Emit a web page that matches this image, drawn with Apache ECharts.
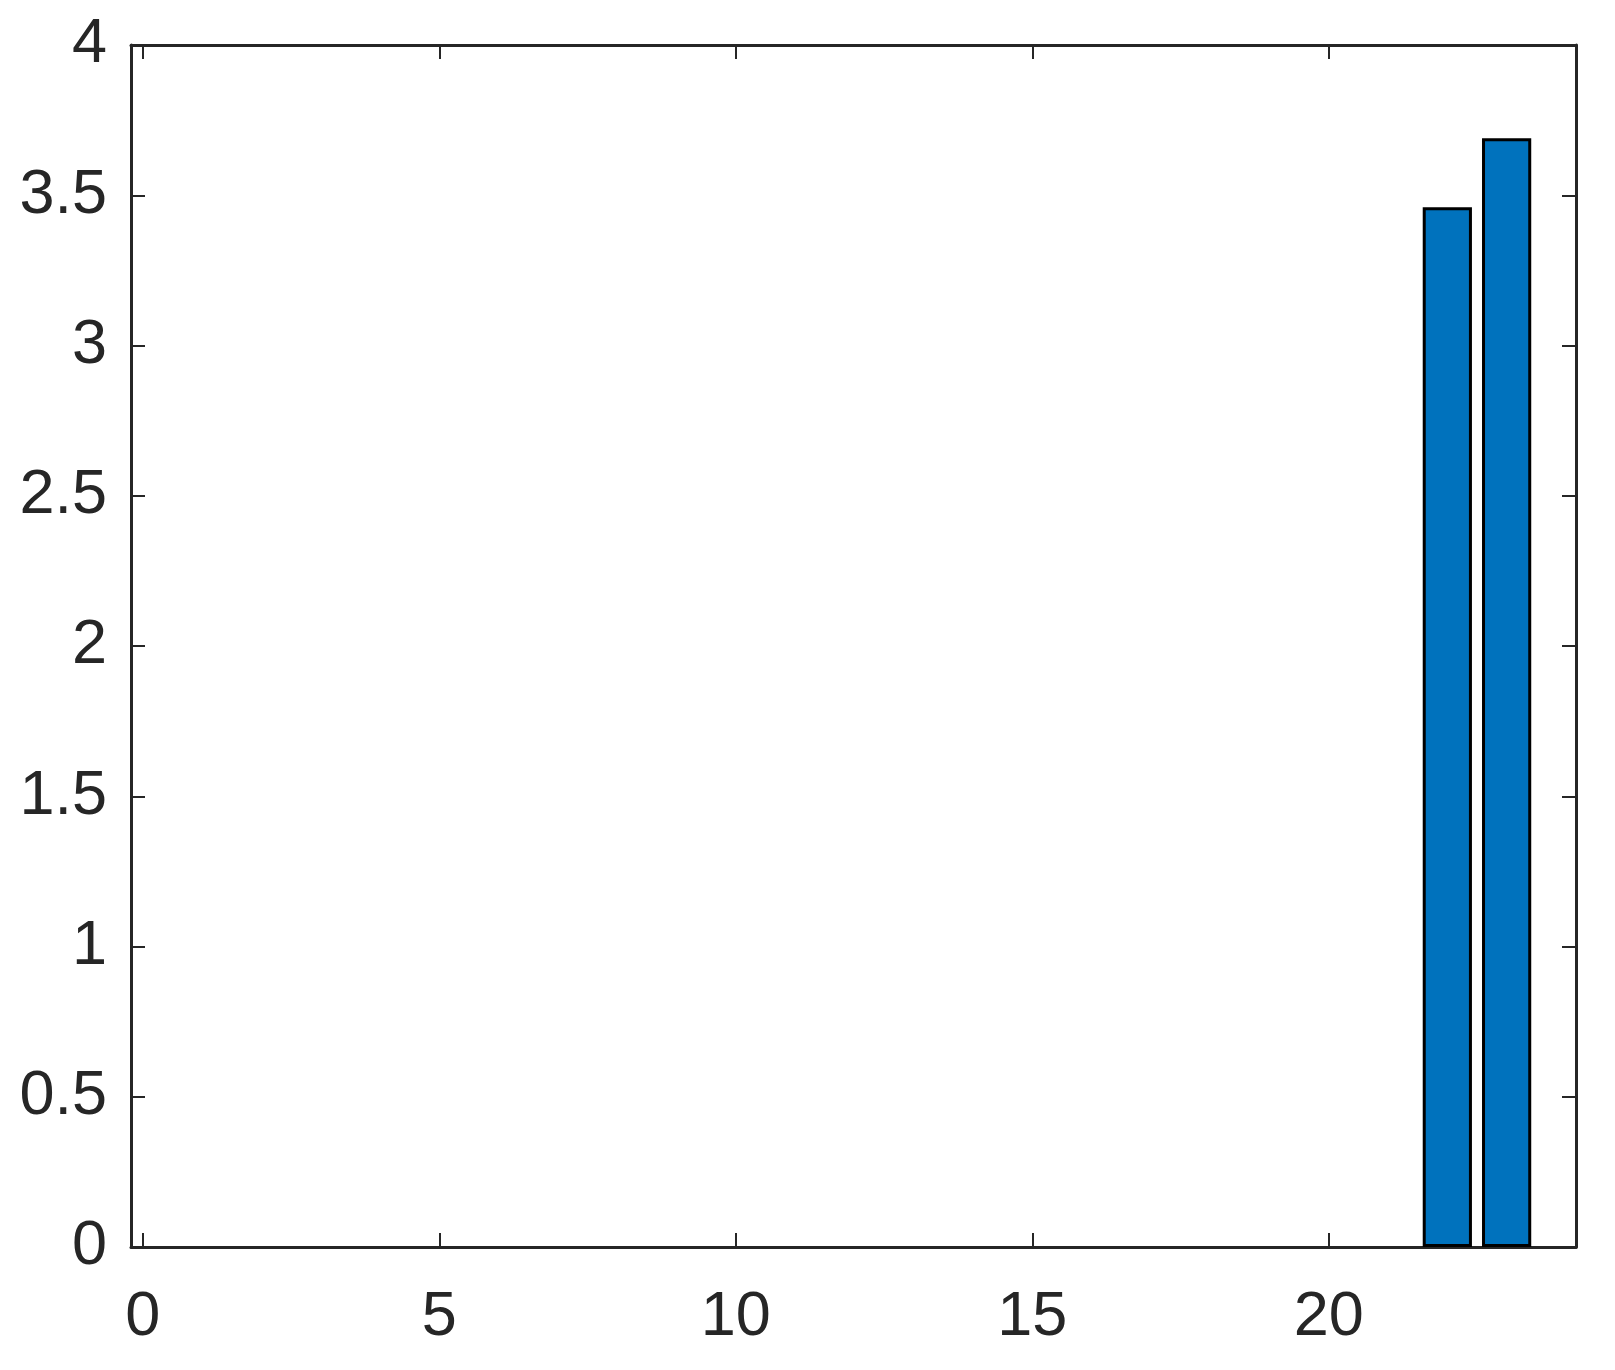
<!DOCTYPE html>
<html>
<head>
<meta charset="utf-8">
<script src="https://cdn.jsdelivr.net/npm/echarts@6/dist/echarts.min.js"></script>
<style>
  html, body { margin: 0; padding: 0; background: #fff; }
  #chart { width: 1615px; height: 1370px; }
</style>
</head>
<body>
<div id="chart"></div>
<script>
// bar positions and heights
const xPos = [22, 23]
const yVals = [3.46, 3.69]
const xTicks = [0, 5, 10, 15, 20]

const axisColor = '#262626'
const font = 'Liberation Sans, Arial, sans-serif'

let myChart = echarts.init(document.getElementById('chart'))

const lineStyle = { color: axisColor, width: 3 }
const tickStyle = { show: true, inside: true, length: 14, lineStyle: { color: axisColor, width: 2 } }

myChart.setOption({
  animation: false,
  backgroundColor: '#fff',
  grid: { left: 131, right: 39, top: 45, bottom: 123 },
  xAxis: [
    {
      type: 'value',
      min: -0.2,
      max: 24.17,
      axisLine: { show: true, onZero: false, lineStyle: lineStyle },
      axisTick: Object.assign({ customValues: xTicks }, tickStyle),
      axisLabel: {
        customValues: xTicks,
        color: axisColor, fontSize: 63, fontFamily: font, margin: 39
      },
      splitLine: { show: false }
    },
    {
      type: 'value',
      position: 'top',
      min: -0.2,
      max: 24.17,
      axisLine: { show: true, onZero: false, lineStyle: lineStyle },
      axisTick: Object.assign({ customValues: xTicks }, tickStyle),
      axisLabel: { show: false },
      splitLine: { show: false }
    }
  ],
  yAxis: [
    {
      type: 'value',
      min: 0,
      max: 4,
      interval: 0.5,
      axisLine: { show: true, onZero: false, lineStyle: lineStyle },
      axisTick: tickStyle,
      axisLabel: { color: axisColor, fontSize: 63, fontFamily: font, margin: 24 },
      splitLine: { show: false }
    },
    {
      type: 'value',
      position: 'right',
      min: 0,
      max: 4,
      interval: 0.5,
      axisLine: { show: true, onZero: false, lineStyle: lineStyle },
      axisTick: tickStyle,
      axisLabel: { show: false },
      splitLine: { show: false }
    }
  ],
  series: [
    {
      type: 'bar',
      xAxisIndex: 0,
      yAxisIndex: 0,
      barWidth: '83%',
      data: xPos.map((x, i) => [x, yVals[i]]),
      itemStyle: { color: '#0072BD', borderColor: '#000', borderWidth: 3 }
    }
  ]
})
</script>
</body>
</html>
